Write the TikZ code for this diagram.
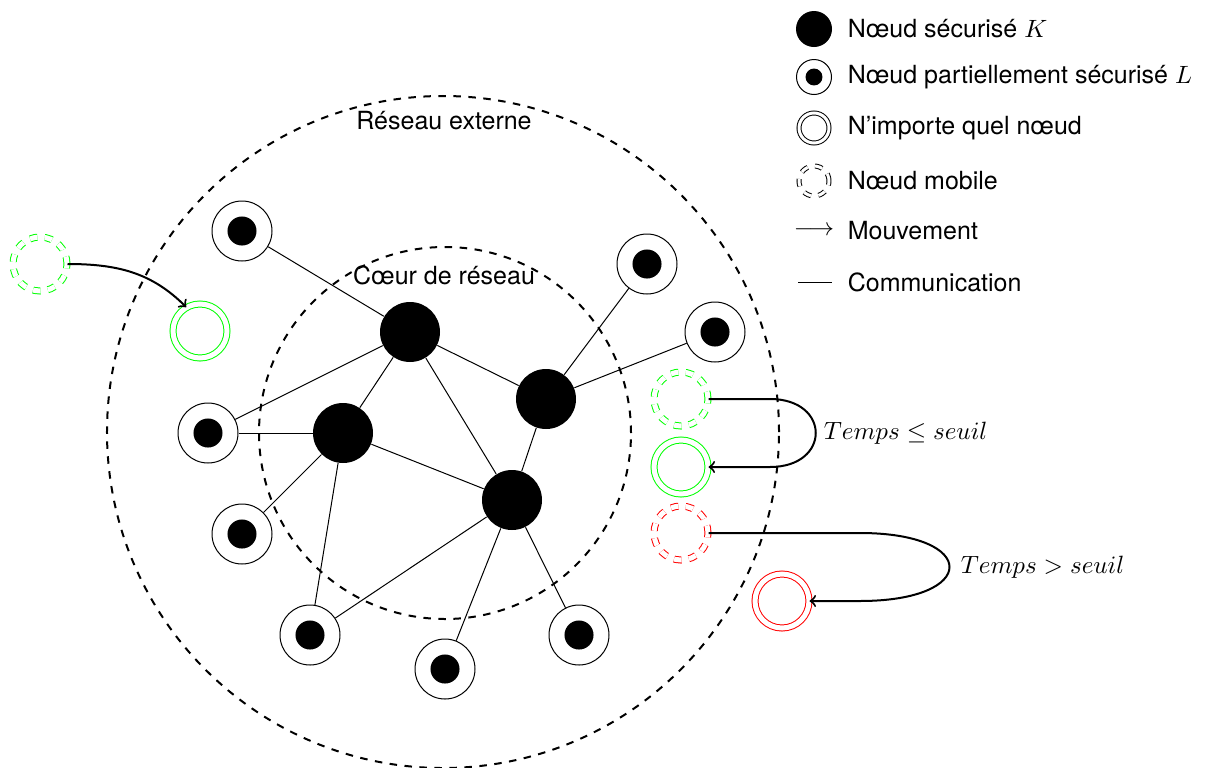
\documentclass[tikz,border=0pt]{standalone}
\usepackage{fontspec}
\setmainfont{TeX Gyre Heros}
\begin{document}
\begin{tikzpicture}[x=0.4pt,y=-0.4pt,
  knode/.style={circle,fill=black,inner sep=0pt,minimum size=#1},
  knode/.default=24pt,
  lnode/.style={circle,draw,line width=0.4pt,inner sep=0pt,minimum size=#1,
    path picture={\fill[black] (path picture bounding box.center) circle[radius=0.242*#1];}},
  lnode/.default=24pt,
  anynode/.style={circle,draw=#1,double=white,double distance=2pt,line width=0.4pt,inner sep=0pt,minimum size=21.6pt},
  mobnode/.style={anynode=#1,dashed},
  comm/.style={line width=0.4pt},
  move/.style={->,thick},
  zone/.style={dashed,thick},
  lbl/.style={anchor=west}
]
\useasboundingbox (0,0) rectangle (1206,767);

% zones
\draw[zone] (443,432) circle[radius=134.4pt];
\draw[zone] (445,433) circle[radius=74.4pt];
\node (ext) at (444,121) {Réseau externe};
\node (core) at (444,275) {Cœur de réseau};

% secure nodes
\node[knode] (k1) at (410,332) {};
\node[knode] (k2) at (546,399) {};
\node[knode] (k3) at (343,433) {};
\node[knode] (k4) at (512,500) {};
% partially secure nodes
\node[lnode] (l1) at (242,231) {};
\node[lnode] (l2) at (647,264) {};
\node[lnode] (l3) at (715,332) {};
\node[lnode] (l4) at (208,433) {};
\node[lnode] (l5) at (242,534) {};
\node[lnode] (l6) at (310,635) {};
\node[lnode] (l7) at (445,669) {};
\node[lnode] (l8) at (579,635) {};

% communications
\draw[comm] (k1) -- (l1);
\draw[comm] (k1) -- (k3);
\draw[comm] (k1) -- (k2);
\draw[comm] (k1) -- (k4);
\draw[comm] (k1) -- (l4);
\draw[comm] (l4) -- (k3);
\draw[comm] (k3) -- (l5);
\draw[comm] (k3) -- (l6);
\draw[comm] (k3) -- (k4);
\draw[comm] (k4) -- (k2);
\draw[comm] (k2) -- (l2);
\draw[comm] (k2) -- (l3);
\draw[comm] (k4) -- (l6);
\draw[comm] (k4) -- (l7);
\draw[comm] (k4) -- (l8);

% mobile nodes
\node[mobnode=green] (m1) at (40,264) {};
\node[anynode=green] (t1) at (200,331) {};
\draw[move] (m1.east) to[out=0,in=135] (t1.120);

\node[mobnode=green] (m2) at (681,399) {};
\node[anynode=green] (t2) at (681,467) {};
\coordinate (g1) at (770,399);
\coordinate (g2) at (770,467);
\draw[move] (m2.east) -- (g1) to[out=0,in=0,looseness=2.3] (g2) -- (t2.east);
\node[lbl] (lg) at (815,433) {$Temps \leq seuil$};

\node[mobnode=red] (m3) at (681,533) {};
\node[anynode=red] (t3) at (782,601) {};
\coordinate (r1) at (860,533);
\coordinate (r2) at (860,601);
\draw[move] (m3.east) -- (r1) to[out=0,in=0,looseness=4.5] (r2) -- (t3.east);
\node[lbl] (lr) at (952,567) {$Temps > seuil$};

% legend
\node[knode=14.4pt] (lk) at (814,29) {};
\node[lbl] (tk) at (839,29) {Nœud sécurisé $K$};
\node[lnode=14pt] (ll) at (814,77) {};
\node[lbl] (tl) at (839,77) {Nœud partiellement sécurisé $L$};
\node[anynode=black,minimum size=12pt,double distance=1.2pt] (la) at (814,128) {};
\node[lbl] (ta) at (839,128) {N’importe quel nœud};
\node[mobnode=black,minimum size=12pt,double distance=1.2pt] (lm) at (814,181) {};
\node[lbl] (tm) at (839,181) {Nœud mobile};
\node (lmv) at (814,231) {$\longrightarrow$};
\node[lbl] (tmv) at (839,231) {Mouvement};
\coordinate (c1) at (798,282);
\coordinate (c2) at (832,282);
\draw[comm] (c1) -- (c2);
\node[lbl] (tc) at (839,282) {Communication};
\end{tikzpicture}
\end{document}
